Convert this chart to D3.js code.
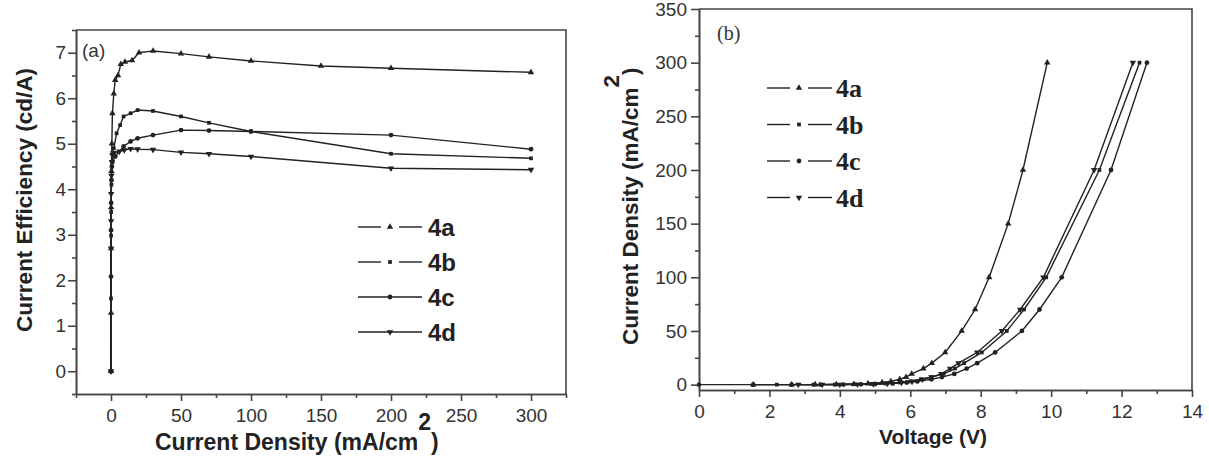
<!DOCTYPE html>
<html>
<head>
<meta charset="utf-8">
<script src="https://cdn.jsdelivr.net/npm/d3@7"></script>
<style>
body{margin:0;background:#fff;}
svg{display:block;}
.tick text{fill:#333;}
</style>
</head>
<body>
<div id="chart"></div>
<script>
// panel (a): current efficiency vs current density
let seriesNames=['4a','4b','4c','4d']
let densA_4a=[0,0.02,0.05,0.1,0.3,0.6,1,2,3,5,7,10,15,20,30,50,70,100,150,200,300]
let effA_4a=[0,1.28,2.7,3.6,4.4,5.0,5.67,6.1,6.4,6.5,6.75,6.8,6.83,7.0,7.04,6.98,6.91,6.82,6.71,6.66,6.57]
let densA_4b=[0,0.02,0.05,0.1,0.3,0.6,1,2,4,6.5,9,14,19,30,50,70,100,200,300]
let effA_4b=[0,1.6,2.98,3.5,4.1,4.5,4.8,4.9,5.23,5.41,5.6,5.67,5.74,5.72,5.6,5.46,5.27,4.78,4.68]
let densA_4c=[0,0.02,0.05,0.1,0.3,0.6,1,3,9,14,19,30,50,70,100,200,300]
let effA_4c=[0,2.08,3.1,3.7,4.2,4.5,4.6,4.72,4.94,5.05,5.12,5.19,5.3,5.29,5.27,5.19,4.88]
let densA_4d=[0,0.02,0.05,0.1,0.3,0.6,1,2,6,9.5,14,19,30,50,70,100,200,300]
let effA_4d=[0,2.7,3.3,3.9,4.3,4.6,4.75,4.8,4.83,4.86,4.89,4.88,4.87,4.81,4.78,4.72,4.46,4.43]

// panel (b): current density vs voltage
let voltB_4a=[1.54,2.63,3.3,3.9,4.4,4.8,5.2,5.45,5.7,5.88,6.04,6.37,6.61,6.99,7.46,7.84,8.24,8.78,9.2,9.89]
let densB_4a=[0,0,0.05,0.2,0.5,1,2,3,5,7,10,15,20,30,50,70,100,150,200,300]
let voltB_4b=[0,2.21,3.25,3.86,4.4,4.9,5.3,5.7,6.0,6.3,6.6,6.95,7.27,7.53,8.03,8.74,9.23,9.86,11.37,12.51]
let densB_4b=[0,0,0.02,0.1,0.3,0.6,1,2,3,5,7,10,15,20,30,50,70,100,200,300]
let voltB_4c=[1.54,2.63,3.45,4.1,4.6,5.0,5.5,5.9,6.2,6.6,6.9,7.25,7.6,7.9,8.41,9.17,9.67,10.3,11.7,12.72]
let densB_4c=[0,0,0.02,0.1,0.3,0.6,1,2,3,5,7,10,15,20,30,50,70,100,200,300]
let voltB_4d=[2.82,3.5,4.0,4.5,4.95,5.35,5.75,6.05,6.35,6.6,6.88,7.13,7.37,7.9,8.6,9.12,9.78,11.22,12.32]
let densB_4d=[0,0.02,0.1,0.3,0.6,1,2,3,5,7,10,15,20,30,50,70,100,200,300]

let ticksA_x=[0,50,100,150,200,250,300]
let minorA_x=[-25,25,75,125,175,225,275,325]
let ticksA_y=[0,1,2,3,4,5,6,7]
let minorA_y=[-0.5,0.5,1.5,2.5,3.5,4.5,5.5,6.5,7.5]
let ticksB_x=[0,2,4,6,8,10,12,14]
let minorB_x=[1,3,5,7,9,11,13]
let ticksB_y=[0,50,100,150,200,250,300,350]
let minorB_y=[25,75,125,175,225,275,325]

let zip=(xs,ys)=>xs.map((x,i)=>[x,ys[i]])
let dataA=[zip(densA_4a,effA_4a),zip(densA_4b,effA_4b),zip(densA_4c,effA_4c),zip(densA_4d,effA_4d)]
let dataB=[zip(voltB_4a,densB_4a),zip(voltB_4b,densB_4b),zip(voltB_4c,densB_4c),zip(voltB_4d,densB_4d)]

let svg=d3.select('#chart').append('svg').attr('width',1209).attr('height',456)
let ink='#222'
let axisCol='#444'

// marker shapes: up triangle, square, circle, down triangle
let markerPath=(i,size)=>{
    let types=[d3.symbolTriangle,d3.symbolSquare,d3.symbolCircle,d3.symbolTriangle]
    return d3.symbol().type(types[i]).size(size)()
}
let markerRot=(i)=>i===3?' rotate(180)':''

let drawPanel=(opt)=>{
    let g=svg.append('g')
    let x=opt.x, y=opt.y
    let [x0,x1]=x.range(), [y0,y1]=y.range()

    // minor ticks
    g.append('g').attr('transform',`translate(0,${y0})`)
        .call(d3.axisBottom(x).tickValues(opt.minorX).tickSize(4).tickFormat('').tickSizeOuter(0))
    g.append('g').attr('transform',`translate(${x0},0)`)
        .call(d3.axisLeft(y).tickValues(opt.minorY).tickSize(4).tickFormat('').tickSizeOuter(0))
    // major ticks
    g.append('g').attr('transform',`translate(0,${y0})`)
        .call(d3.axisBottom(x).tickValues(opt.ticksX).tickSize(7).tickPadding(opt.padX).tickSizeOuter(0))
        .style('font-family','"Liberation Sans",Arial,sans-serif').style('font-size','19px')
    g.append('g').attr('transform',`translate(${x0},0)`)
        .call(d3.axisLeft(y).tickValues(opt.ticksY).tickSize(8).tickPadding(opt.padY).tickSizeOuter(0))
        .style('font-family','"Liberation Sans",Arial,sans-serif').style('font-size','19px')
    g.selectAll('.domain,.tick line').attr('stroke',axisCol).attr('stroke-width',1.6)

    // frame top/right
    g.append('path')
        .attr('d',`M${x0},${y1}H${x1}V${y0}`)
        .attr('fill','none').attr('stroke',axisCol).attr('stroke-width',1.6)

    let line=d3.line().x(d=>x(d[0])).y(d=>y(d[1]))
    let series=g.selectAll('.series').data(opt.data).enter().append('g')
    series.append('path')
        .attr('d',d=>line(d))
        .attr('fill','none').attr('stroke',ink).attr('stroke-width',1.4)
    series.each(function(d,i){
        d3.select(this).selectAll('path.mk').data(d).enter().append('path')
            .attr('class','mk')
            .attr('d',markerPath(i,i===1?14:18))
            .attr('transform',p=>`translate(${x(p[0])},${y(p[1])})`+markerRot(i))
            .attr('fill',ink)
    })
    return g
}

let xA=d3.scaleLinear().domain([-25,325]).range([76,566])
let yA=d3.scaleLinear().domain([-0.5,7.5]).range([394,30])
let gA=drawPanel({x:xA,y:yA,data:dataA,ticksX:ticksA_x,minorX:minorA_x,ticksY:ticksA_y,minorY:minorA_y,padX:8,padY:2})

let xB=d3.scaleLinear().domain([0,14]).range([699,1192])
let yB=d3.scaleLinear().domain([-5,350]).range([390,9])
let gB=drawPanel({x:xB,y:yB,data:dataB,ticksX:ticksB_x,minorX:minorB_x,ticksY:ticksB_y,minorY:minorB_y,padX:8,padY:4})

// axis titles
let sans='"Liberation Sans",Arial,sans-serif'
let titleA_y=svg.append('text')
    .attr('transform','translate(32,200) rotate(-90)')
    .attr('text-anchor','middle')
    .style('font-family',sans).style('font-weight','bold').style('font-size','22.5px').attr('fill','#222')
    .text('Current Efficiency (cd/A)')
let titleA_x=svg.append('text')
    .attr('x',155).attr('y',450)
    .style('font-family',sans).style('font-weight','bold').style('font-size','23px').attr('fill','#222')
titleA_x.append('tspan').text('Current Density (mA/cm')
titleA_x.append('tspan').attr('dy',-20).text('2')
titleA_x.append('tspan').attr('dy',20).text(')')

let titleB_y=svg.append('text')
    .attr('transform','translate(638,345) rotate(-90)')
    .style('font-family',sans).style('font-weight','bold').style('font-size','22.5px').attr('fill','#222')
titleB_y.append('tspan').text('Current Density (mA/cm')
titleB_y.append('tspan').attr('dy',-19).text('2')
titleB_y.append('tspan').attr('dy',19).text(')')
svg.append('text')
    .attr('x',933).attr('y',444).attr('text-anchor','middle')
    .style('font-family',sans).style('font-weight','bold').style('font-size','21px').attr('fill','#222')
    .text('Voltage (V)')

// panel labels
svg.append('text').attr('x',82).attr('y',57)
    .style('font-family',sans).style('font-size','19px').attr('fill','#333').text('(a)')
svg.append('text').attr('x',717).attr('y',40)
    .style('font-family','"Liberation Serif","Times New Roman",serif').style('font-size','20px').attr('fill','#333').text('(b)')

// legends
let drawLegend=(opt)=>{
    let lg=svg.append('g')
    seriesNames.forEach((name,i)=>{
        let yy=opt.y0+i*opt.dy
        let gapped=opt.gapAll||i<2
        if(gapped){
            lg.append('line').attr('x1',opt.x0).attr('x2',opt.xm-opt.gap).attr('y1',yy).attr('y2',yy)
                .attr('stroke',ink).attr('stroke-width',1.4)
            lg.append('line').attr('x1',opt.xm+opt.gap).attr('x2',opt.x1).attr('y1',yy).attr('y2',yy)
                .attr('stroke',ink).attr('stroke-width',1.4)
        }else{
            lg.append('line').attr('x1',opt.x0).attr('x2',opt.x1).attr('y1',yy).attr('y2',yy)
                .attr('stroke',ink).attr('stroke-width',1.4)
        }
        lg.append('path').attr('d',markerPath(i,i===1?14:18))
            .attr('transform',`translate(${opt.xm},${yy})`+markerRot(i)).attr('fill',ink)
        lg.append('text').attr('x',opt.tx).attr('y',yy).attr('dy','0.36em')
            .style('font-family',opt.font).style('font-weight','bold').style('font-size',opt.size)
            .attr('fill','#222').text(name)
    })
}
drawLegend({x0:358,x1:422,xm:390,gap:9,tx:428,y0:227,dy:35,font:sans,size:'24px',gapAll:false})
drawLegend({x0:767,x1:832,xm:799,gap:9,tx:836,y0:88,dy:36.5,font:'"Liberation Serif","Times New Roman",serif',size:'26px',gapAll:true})
</script>
</body>
</html>
